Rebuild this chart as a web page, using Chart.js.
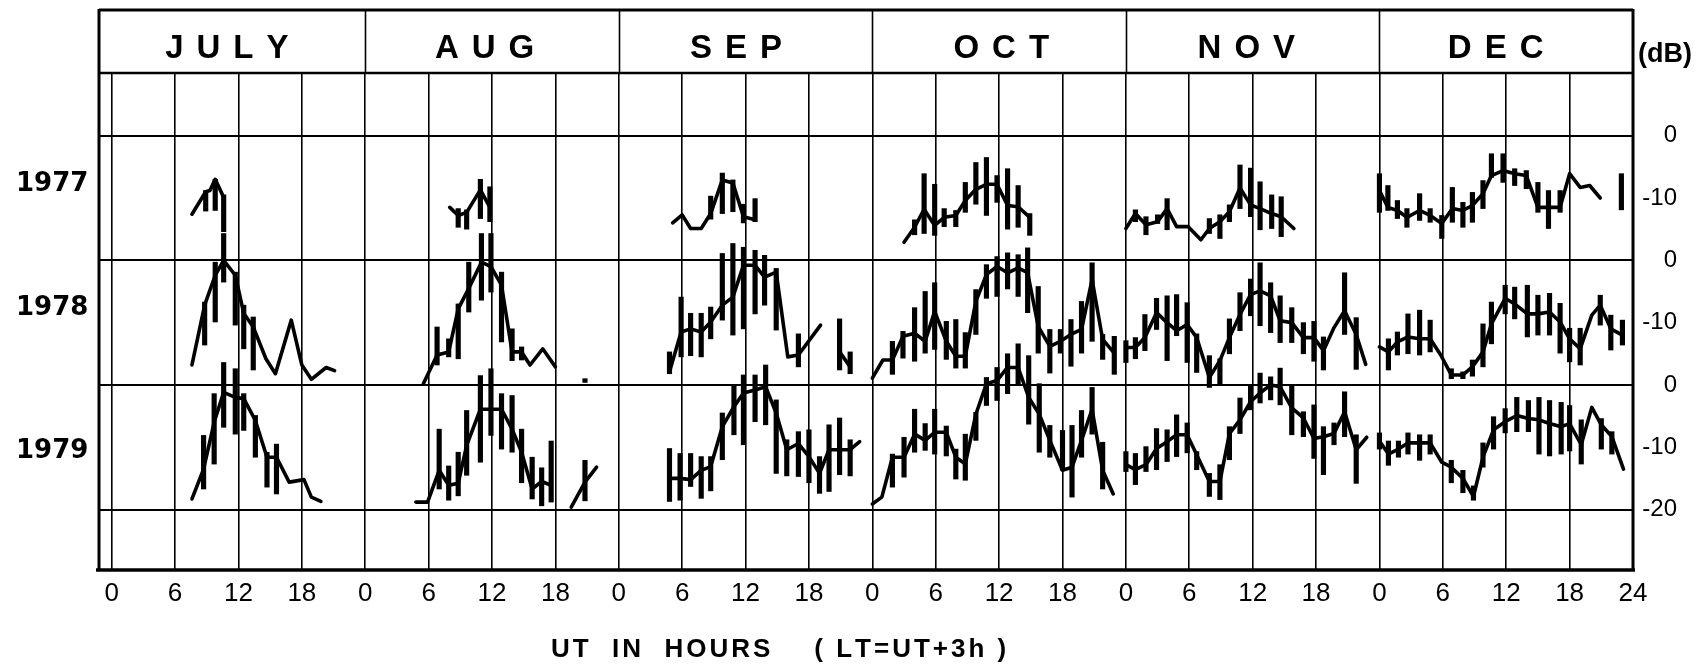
<!DOCTYPE html>
<html><head><meta charset="utf-8">
<script src="https://cdn.jsdelivr.net/npm/chart.js@4.4.1/dist/chart.umd.min.js"></script>
<style>html,body{margin:0;padding:0;background:#fff;}canvas{display:block;}</style>
</head><body>
<canvas id="c" width="1701" height="665"></canvas>
<script>
// ---------- categories / labels ----------
const MONTHS = ['JULY', 'AUG', 'SEP', 'OCT', 'NOV', 'DEC'];
const YEARS = ['1977', '1978', '1979'];
const HOUR_TICKS = [0, 6, 12, 18];
const DB_TICK_LABELS = ['0', '-10'];
const X_TITLE = 'UT  IN  HOURS    ( LT=UT+3h )';
const UNIT = '(dB)';

// ---------- series: [UT hour, mean dB] (null = gap) ----------
const jul77 = [[7.6,-12.6],[8.9,-9.0],[9.3,-8.8],[9.8,-7.0],[10.6,-9.9]];
const aug77 = [[8.0,-11.5],[8.8,-12.8],[9.6,-12.3],[10.9,-8.7],[11.8,-11.5]];
const sep77 = [[5.1,-14.0],[6.0,-12.7],[6.8,-14.9],[7.8,-14.9],[8.7,-12.5],[9.8,-7.1],[10.8,-7.6],[11.8,-13.0],[12.9,-13.5]];
const oct77 = [[3.0,-17.1],[4.0,-14.7],[4.9,-11.8],[5.9,-14.4],[6.8,-13.1],[7.9,-12.8],[8.8,-10.4],[9.8,-8.6],[10.8,-7.8],[11.8,-7.8],[12.8,-11.2],[13.8,-11.4],[14.9,-13.1]];
const nov77 = [[0,-14.9],[0.9,-12.5],[1.9,-14.3],[3.0,-13.8],[3.9,-11.7],[4.8,-14.6],[5.9,-14.6],[7.1,-16.7],[7.9,-14.9],[8.9,-13.8],[9.8,-12.2],[10.8,-8.4],[11.8,-11.1],[12.7,-11.7],[13.8,-12.5],[14.7,-13.0],[15.9,-14.9]];
const dec77 = [[0,-8.8],[0.8,-11.5],[1.7,-12.0],[2.6,-13.1],[3.8,-12.0],[4.8,-12.8],[5.9,-14.1],[6.9,-11.7],[7.9,-12.0],[8.8,-11.2],[9.8,-9.3],[10.6,-6.4],[11.7,-5.6],[12.8,-6.1],[13.9,-6.4],[15.0,-11.5],[16.0,-11.5],[17.1,-11.5],[18.0,-6.1],[19.0,-8.3],[19.9,-8.0],[20.9,-10.0]];

const jul78 = [[7.6,-16.8],[8.8,-7.2],[9.8,-2.4],[10.6,0],[11.7,-2.4],[12.5,-8.5],[13.4,-10.7],[14.6,-15.8],[15.5,-18.2],[17.0,-9.6],[18.0,-16.8],[18.9,-19.1],[20.3,-17.2],[21.1,-17.7]];
const aug78 = [[5.5,-19.8],[6.8,-15.2],[7.9,-14.7],[8.8,-7.8],[9.8,-4.5],[11.0,-0.3],[11.9,-1.0],[12.9,-4.0],[13.9,-14.7],[14.8,-14.7],[15.6,-16.8],[16.8,-14.2],[18.0,-17.1]];
const sep78 = [[4.8,-17.9],[5.9,-11.5],[6.8,-11.0],[7.8,-11.5],[8.7,-9.9],[9.8,-7.2],[10.8,-5.9],[11.8,-0.8],[12.9,-0.8],[13.8,-2.7],[14.9,-1.9],[16.0,-15.5],[17.0,-15.2],[19.1,-10.4],[20.0,null],[20.9,-14.7],[21.9,-17.1]];
const oct78 = [[0,-18.9],[1.0,-16.0],[1.9,-16.0],[2.9,-12.2],[4.0,-11.7],[5.0,-13.0],[5.9,-8.2],[7.0,-13.0],[7.9,-15.4],[8.8,-15.4],[9.8,-6.6],[10.8,-2.3],[11.8,-1.0],[12.8,-2.0],[13.8,-1.2],[14.7,-2.0],[15.7,-10.6],[16.8,-13.8],[17.8,-13.0],[18.8,-11.9],[19.8,-11.1],[20.8,-3.1],[21.8,-12.7],[22.9,-14.9]];
const nov78 = [[0,-14.0],[0.9,-14.0],[1.8,-12.4],[2.9,-8.4],[3.9,-10.0],[4.8,-11.3],[5.8,-10.3],[6.7,-12.4],[7.9,-18.8],[8.9,-16.1],[9.8,-12.4],[10.8,-8.7],[11.8,-5.5],[12.7,-4.9],[13.7,-5.7],[14.6,-9.7],[15.7,-10.0],[16.8,-12.4],[17.8,-12.4],[18.7,-14.5],[19.7,-10.8],[20.7,-8.1],[21.8,-11.9],[22.7,-16.7]];
const dec78 = [[0,-13.9],[0.85,-14.7],[1.7,-13.1],[2.7,-12.3],[3.8,-12.6],[4.8,-12.6],[5.8,-15.2],[6.8,-18.4],[7.9,-18.4],[8.8,-17.1],[9.8,-14.7],[10.6,-10.2],[11.9,-6.1],[12.8,-7.0],[14.0,-8.6],[15.0,-8.6],[16.1,-8.3],[17.1,-9.9],[18.0,-12.6],[19.0,-14.2],[20.1,-8.8],[20.9,-7.2],[21.9,-11.0],[23.0,-12.0]];

const jul79 = [[7.6,-18.3],[8.7,-13.5],[9.7,-6.0],[10.6,-1.2],[11.7,-2.0],[12.5,-2.2],[13.6,-5.7],[14.7,-11.6],[15.6,-11.6],[16.8,-15.6],[18.2,-15.2],[18.9,-18.0],[19.8,-18.7]];
const aug79 = [[4.8,-18.8],[5.9,-18.8],[7.0,-13.7],[7.9,-16.1],[8.8,-15.8],[9.6,-9.7],[10.9,-3.9],[11.9,-3.9],[12.9,-3.9],[13.9,-7.1],[14.8,-10.8],[15.8,-16.7],[16.7,-15.5],[17.6,-16.1],[18.5,null],[19.5,-19.6],[20.8,-15.6],[21.9,-13.2]];
const sep79 = [[4.8,-15.0],[5.8,-15.0],[6.8,-15.2],[7.8,-13.7],[8.7,-13.1],[9.8,-6.7],[10.9,-3.5],[11.8,-1.3],[12.9,-0.8],[13.9,-0.3],[14.9,-4.5],[15.9,-10.4],[17.0,-9.4],[18.0,-11.5],[19.0,-14.2],[19.9,-10.4],[20.9,-10.4],[21.9,-10.4],[22.8,-9.1]];
const oct79 = [[0,-19.1],[0.9,-18.0],[1.9,-11.6],[3.0,-11.6],[4.0,-7.9],[5.0,-8.9],[5.9,-7.6],[7.0,-7.6],[7.9,-11.6],[8.8,-12.7],[9.8,-4.7],[10.8,0.2],[11.8,0.7],[12.8,2.8],[13.8,2.8],[14.8,-2.0],[15.8,-4.7],[16.8,-8.9],[18.0,-13.7],[18.9,-13.2],[19.8,-8.9],[20.8,-3.9],[21.8,-13.7],[22.8,-17.5]];
const nov79 = [[0,-12.8],[0.9,-13.6],[1.9,-12.8],[2.9,-10.2],[3.9,-9.1],[4.8,-8.0],[5.8,-8.0],[6.7,-11.2],[7.9,-15.5],[8.9,-15.5],[9.8,-7.8],[10.8,-5.6],[11.8,-2.7],[12.7,-1.3],[13.7,0],[14.6,-0.3],[15.7,-3.7],[16.8,-5.3],[17.8,-8.6],[18.7,-8.3],[19.7,-7.8],[20.7,-4.3],[21.8,-10.4],[22.8,-8.4]];
const dec79 = [[0,-9.0],[0.85,-11.1],[1.8,-10.3],[2.7,-9.3],[3.8,-9.3],[4.8,-9.3],[5.9,-12.4],[6.8,-13.2],[7.9,-15.0],[8.9,-17.9],[9.8,-11.6],[10.8,-7.2],[11.9,-5.9],[13.0,-4.9],[14.1,-5.4],[15.1,-5.6],[16.1,-6.2],[17.2,-6.7],[18.0,-6.2],[19.1,-9.6],[20.1,-3.6],[21.0,-6.4],[22.0,-8.3],[23.1,-13.5]];

// ---------- error bars: [UT hour, upper dB, lower dB] ----------
const jul77Err = [[8.9,-8.8,-12.1],[9.8,-7.0,-12.0],[10.6,-9.5,-15.4]];
const aug77Err = [[8.8,-11.7,-14.7],[9.6,-11.9,-15.0],[10.9,-7.0,-13.3],[11.8,-8.2,-13.8]];
const sep77Err = [[8.7,-9.7,-13.4],[9.8,-6.0,-12.5],[10.8,-7.1,-12.2],[11.8,-11.0,-14.0],[12.9,-10.1,-13.8]];
const oct77Err = [[4.0,-13.5,-15.9],[4.9,-6.1,-15.7],[5.9,-7.8,-16.0],[6.8,-11.7,-14.6],[7.9,-12.0,-14.6],[8.8,-7.5,-12.3],[9.8,-4.3,-11.0],[10.8,-3.5,-12.8],[11.8,-6.4,-10.7],[12.8,-5.3,-15.0],[13.8,-8.0,-14.7],[14.9,-12.5,-16.0]];
const nov77Err = [[0.9,-11.9,-13.8],[1.9,-13.0,-15.9],[3.0,-12.7,-14.1],[3.9,-10.1,-15.1],[7.9,-13.3,-15.7],[8.9,-12.7,-16.5],[9.8,-11.1,-13.8],[10.8,-4.7,-11.7],[11.8,-5.2,-13.0],[12.7,-7.4,-15.1],[13.8,-9.5,-14.9],[14.7,-9.8,-16.2]];
const dec77Err = [[0,-6.1,-12.3],[0.8,-8.0,-12.0],[1.7,-10.4,-13.3],[2.6,-11.7,-14.7],[3.8,-9.3,-13.6],[4.8,-11.7,-13.9],[5.9,-12.8,-16.5],[6.9,-8.3,-13.9],[7.9,-10.7,-14.7],[8.8,-9.1,-13.9],[9.8,-7.2,-11.7],[10.6,-2.9,-6.7],[11.7,-2.9,-7.5],[12.8,-5.3,-8.0],[13.9,-5.6,-8.5],[15.0,-7.5,-12.3],[16.0,-8.8,-14.9],[17.1,-8.8,-12.3],[22.9,-6.1,-11.9]];

const jul78Err = [[8.8,-6.7,-13.6],[9.8,-0.3,-9.9],[10.6,4.3,-3.5],[11.7,-1.9,-10.4],[12.5,-7.2,-14.2],[13.4,-9.1,-17.6]];
const aug78Err = [[6.8,-10.7,-16.8],[7.9,-12.6,-15.5],[8.8,-7.0,-15.8],[9.8,-0.3,-8.3],[11.0,4.3,-6.4],[11.9,4.3,-5.1],[12.9,-1.9,-13.1],[13.9,-11.0,-16.1],[14.8,-13.9,-16.0],[20.8,-19.0,-19.6]];
const sep78Err = [[4.8,-14.7,-18.2],[5.9,-5.9,-15.5],[6.8,-8.5,-15.3],[7.8,-8.5,-15.5],[8.7,-7.5,-12.6],[9.8,1.1,-9.6],[10.8,2.7,-12.0],[11.8,2.1,-11.0],[12.9,1.6,-8.6],[13.8,0.8,-7.2],[14.9,-1.3,-11.2],[17.0,-11.8,-17.1],[20.9,-9.4,-17.6],[21.9,-14.7,-18.2]];
const oct78Err = [[1.9,-13.0,-18.3],[2.9,-11.4,-15.7],[4.0,-7.6,-16.2],[5.0,-5.0,-14.9],[5.9,-3.6,-14.3],[7.0,-9.8,-15.9],[7.9,-9.5,-17.3],[8.8,-11.6,-17.3],[9.8,-4.7,-11.9],[10.8,-0.7,-6.1],[11.8,0.6,-5.8],[12.8,1.2,-4.6],[13.8,0.9,-5.8],[14.7,2.0,-8.4],[15.7,-4.2,-14.9],[16.8,-11.1,-18.1],[17.8,-11.1,-14.9],[18.8,-9.5,-17.0],[19.8,-6.6,-14.9],[20.8,-0.4,-13.0],[21.8,-11.9,-15.9],[22.9,-12.2,-18.3]];
const nov78Err = [[0,-12.9,-16.4],[0.9,-12.4,-15.8],[1.8,-8.7,-14.5],[2.9,-6.1,-11.1],[3.9,-5.7,-16.1],[4.8,-5.5,-12.1],[5.8,-6.8,-16.4],[6.7,-11.8,-18.0],[7.9,-15.3,-20.4],[8.9,-15.8,-19.8],[9.8,-9.4,-15.0],[10.8,-5.2,-11.3],[11.8,-3.0,-8.9],[12.7,-0.4,-10.5],[13.7,-3.6,-11.6],[14.6,-5.7,-13.2],[15.7,-7.6,-13.2],[16.8,-10.0,-15.0],[17.8,-9.8,-16.2],[18.7,-12.3,-17.6],[20.7,-2.0,-11.9],[21.8,-9.2,-17.5]];
const dec78Err = [[0.85,-12.6,-17.6],[1.7,-11.5,-15.2],[2.7,-8.6,-15.0],[3.8,-8.0,-15.2],[4.8,-9.6,-14.7],[6.8,-17.4,-19.0],[7.9,-17.9,-19.0],[8.8,-16.0,-18.6],[9.8,-10.2,-17.1],[10.6,-6.7,-13.4],[11.9,-4.0,-8.6],[12.8,-4.3,-9.4],[14.0,-4.0,-12.3],[15.0,-5.6,-12.0],[16.1,-5.3,-12.0],[17.1,-6.9,-14.9],[18.0,-10.9,-16.3],[19.0,-10.9,-16.8],[20.9,-5.6,-10.4],[21.9,-8.8,-14.4],[23.0,-9.6,-13.6]];

const jul79Err = [[8.7,-8.1,-16.7],[9.7,-1.4,-12.7],[10.6,3.6,-6.8],[11.7,2.6,-7.9],[12.5,-1.4,-7.3],[13.6,-4.9,-11.6],[14.7,-10.8,-16.4],[15.6,-9.5,-17.5]];
const aug79Err = [[7.0,-7.1,-16.7],[7.9,-13.0,-18.5],[8.8,-10.8,-17.8],[9.6,-4.1,-14.5],[10.9,1.5,-12.4],[11.9,2.6,-8.1],[12.9,-1.4,-10.3],[13.9,-1.7,-10.8],[14.8,-7.1,-15.7],[15.8,-11.6,-18.3],[16.7,-13.3,-19.4],[17.6,-9.0,-18.8],[20.8,-12.1,-18.6]];
const sep79Err = [[4.8,-10.2,-18.7],[5.8,-11.0,-18.5],[6.8,-11.0,-16.3],[7.8,-11.5,-18.2],[8.7,-11.5,-17.0],[9.8,-4.5,-12.0],[10.9,0,-8.0],[11.8,1.6,-9.6],[12.9,1.6,-5.9],[13.9,3.2,-6.4],[14.9,-2.4,-14.2],[15.9,-8.8,-14.6],[17.0,-7.5,-14.7],[18.0,-7.2,-15.7],[19.0,-11.5,-17.4],[19.9,-6.4,-17.1],[20.9,-5.3,-14.4],[21.9,-8.8,-14.6]];
const oct79Err = [[1.9,-11.1,-16.4],[3.0,-8.4,-14.8],[4.0,-3.9,-10.8],[5.0,-6.2,-10.5],[5.9,-3.9,-11.1],[7.0,-6.6,-11.4],[7.9,-10.3,-15.1],[8.8,-7.9,-15.3],[9.8,-4.4,-8.9],[10.8,1.2,-3.3],[11.8,2.8,-2.5],[12.8,5.0,-1.4],[13.8,6.6,0.2],[14.8,4.7,-6.3],[15.8,0.2,-10.8],[16.8,-6.5,-11.6],[18.0,-7.3,-13.7],[18.9,-6.5,-18.0],[19.8,-4.1,-11.6],[20.8,-0.4,-7.9],[21.8,-9.2,-16.7]];
const nov79Err = [[0,-10.7,-13.9],[0.9,-11.0,-16.0],[1.9,-9.9,-13.9],[2.9,-7.0,-13.6],[3.9,-7.2,-12.3],[4.8,-4.8,-11.5],[5.8,-6.1,-10.9],[6.7,-10.7,-13.6],[7.9,-14.2,-17.9],[8.9,-12.8,-18.4],[9.8,-6.7,-12.0],[10.8,-2.1,-7.8],[11.8,0,-4.0],[12.7,1.9,-2.9],[13.7,1.3,-2.4],[14.6,2.7,-3.2],[15.7,0,-8.0],[16.8,-4.3,-8.3],[17.8,-3.2,-11.8],[18.7,-6.7,-14.4],[19.7,-6.1,-9.6],[20.7,-1.1,-8.3],[21.8,-8.0,-15.8]];
const dec79Err = [[0,-7.7,-10.3],[0.85,-9.0,-12.9],[1.8,-9.0,-11.6],[2.7,-7.7,-11.1],[3.8,-8.0,-12.1],[4.8,-8.0,-11.1],[6.8,-12.1,-15.7],[7.9,-13.7,-17.3],[8.9,-16.2,-18.5],[9.8,-9.3,-13.2],[10.8,-5.1,-10.3],[11.9,-3.8,-7.7],[13.0,-2.0,-7.5],[14.1,-2.5,-7.5],[15.1,-2.0,-11.1],[16.1,-2.5,-11.4],[17.2,-2.8,-11.1],[18.0,-3.3,-10.6],[19.1,-5.6,-12.7],[21.0,-5.4,-10.3],[22.0,-7.5,-11.1]];

const LINES = [
  [jul77, aug77, sep77, oct77, nov77, dec77],
  [jul78, aug78, sep78, oct78, nov78, dec78],
  [jul79, aug79, sep79, oct79, nov79, dec79]
];
const ERRS = [
  [jul77Err, aug77Err, sep77Err, oct77Err, nov77Err, dec77Err],
  [jul78Err, aug78Err, sep78Err, oct78Err, nov78Err, dec78Err],
  [jul79Err, aug79Err, sep79Err, oct79Err, nov79Err, dec79Err]
];

// ---------- layout / style constants ----------
const HOURS_PER_MONTH = 24;
const ROW_STEP = 20;                       // each year row is offset by 20 dB
const ROW_LABEL_AT = [-7.8, -27.7, -50.7]; // vertical placement of year labels
const HEADER_CENTER = [10.9, 11.3, 11.1, 12.2, 11.4, 11.0]; // hour within month
const TICK_FONT = "'Liberation Sans Narrow','Liberation Sans',Arial,sans-serif";

// ---------- build datasets ----------
const lineDatasets = LINES.map((row, yi) => {
  const data = [];
  row.forEach((pts, mi) => {
    pts.forEach(p => data.push({x: mi * HOURS_PER_MONTH + p[0], y: p[1] === null ? null : p[1] - ROW_STEP * yi}));
    data.push({x: mi * HOURS_PER_MONTH + 23.99, y: null});
  });
  return {type: 'line', label: YEARS[yi], data, borderColor: '#000', borderWidth: 3.6,
          pointRadius: 0, tension: 0, spanGaps: false, fill: false, yAxisID: 'y',
          borderJoinStyle: 'round', borderCapStyle: 'round'};
});
const barData = [];
ERRS.forEach((row, yi) => row.forEach((bars, mi) => bars.forEach(b => {
  barData.push({x: mi * HOURS_PER_MONTH + b[0], y: [b[2] - ROW_STEP * yi, b[1] - ROW_STEP * yi]});
})));
barData.sort((a, b) => a.x - b.x);
const barDataset = {type: 'bar', label: 'spread', data: barData, backgroundColor: '#000',
                    borderWidth: 0, barThickness: 4.5, grouped: true, yAxisID: 'y'};

const xTicks = [];
for (let v = 0; v <= MONTHS.length * HOURS_PER_MONTH; v += 6) xTicks.push(v);

function spacedText(ctx, text, x, y, spacing, align) {
  const chars = [...text];
  const w = chars.map(c => ctx.measureText(c).width);
  const total = w.reduce((a, b) => a + b, 0) + spacing * (chars.length - 1);
  let cx = align === 'left' ? x : x - total / 2;
  ctx.textAlign = 'left';
  chars.forEach((c, i) => { ctx.fillText(c, cx, y); cx += w[i] + spacing; });
}

const framePlugin = {
  id: 'frame',
  afterDraw(chart) {
    const {ctx, chartArea: a, scales: {x}} = chart;
    const top = 10;
    ctx.save();
    ctx.strokeStyle = '#000';
    ctx.lineCap = 'butt';
    // outer frame
    ctx.lineWidth = 3;
    ctx.beginPath();
    ctx.moveTo(a.left, top); ctx.lineTo(a.right, top);
    ctx.moveTo(a.left, top - 1); ctx.lineTo(a.left, a.bottom + 1);
    ctx.moveTo(a.right, top - 1); ctx.lineTo(a.right, a.bottom + 1);
    ctx.stroke();
    ctx.lineWidth = 3.5;
    ctx.beginPath();
    ctx.moveTo(a.left - 3, a.bottom); ctx.lineTo(a.right + 2, a.bottom);
    ctx.stroke();
    // header bottom
    ctx.lineWidth = 2.6;
    ctx.beginPath();
    ctx.moveTo(a.left, a.top); ctx.lineTo(a.right, a.top);
    ctx.stroke();
    // month dividers in header
    ctx.lineWidth = 1.6;
    ctx.beginPath();
    for (let m = 1; m < MONTHS.length; m++) {
      const px = Math.round(x.getPixelForValue(m * HOURS_PER_MONTH)) + 0.5;
      ctx.moveTo(px, top); ctx.lineTo(px, a.top);
    }
    ctx.stroke();
    // month names
    ctx.fillStyle = '#000';
    ctx.textBaseline = 'alphabetic';
    ctx.font = "bold 33px 'Liberation Sans', Arial, sans-serif";
    MONTHS.forEach((m, i) => {
      spacedText(ctx, m, x.getPixelForValue(i * HOURS_PER_MONTH + HEADER_CENTER[i]), 58, 13);
    });
    // unit
    ctx.font = "bold 27px 'Liberation Sans', Arial, sans-serif";
    ctx.textAlign = 'center';
    ctx.fillText(UNIT, 1665, 62);
    // x title
    ctx.font = "bold 26px 'Liberation Sans', Arial, sans-serif";
    spacedText(ctx, X_TITLE, 551, 657, 3, 'left');
    ctx.restore();
  }
};

new Chart(document.getElementById('c'), {
  type: 'line',
  data: {datasets: [...lineDatasets, barDataset]},
  options: {
    responsive: false,
    animation: false,
    devicePixelRatio: 1,
    layout: {padding: {left: 16, top: 73, right: 24, bottom: 0}},
    plugins: {legend: {display: false}, tooltip: {enabled: false}, title: {display: false}},
    scales: {
      x: {
        type: 'linear', position: 'bottom', min: -1.2, max: 144, offset: false,
        afterBuildTicks: s => { s.ticks = xTicks.map(v => ({value: v})); },
        afterFit: s => { s.height = 95; },
        grid: {color: '#000', lineWidth: 1.6, drawTicks: false, offset: false},
        border: {display: false},
        ticks: {autoSkip: false, maxRotation: 0, padding: 8, color: '#000',
                font: {family: TICK_FONT, size: 26},
                callback: v => v === 144 ? '24' : String(HOUR_TICKS[(v % 24) / 6])}
      },
      y: {
        type: 'linear', position: 'right', min: -69.7, max: 10.06,
        afterBuildTicks: s => { const t = []; for (let v = 0; v >= -60; v -= 10) t.push({value: v}); s.ticks = t; },
        afterFit: s => { s.width = 44; },
        grid: {color: c => (c.tick && c.tick.value % 20 === 0) ? '#000' : 'rgba(0,0,0,0)', lineWidth: 2, drawTicks: false},
        border: {display: false},
        ticks: {crossAlign: 'far', padding: 8, color: '#000', autoSkip: false,
                font: {family: TICK_FONT, size: 24},
                callback: v => v === -60 ? '-20' : DB_TICK_LABELS[(v % 20 === 0) ? 0 : 1]}
      },
      yl: {
        type: 'linear', position: 'left', min: -69.7, max: 10.06,
        afterBuildTicks: s => { s.ticks = ROW_LABEL_AT.map(v => ({value: v})); },
        afterFit: s => { s.width = 83; },
        grid: {display: false}, border: {display: false},
        ticks: {crossAlign: 'far', autoSkip: false, color: '#000',
                font: {family: "'DejaVu Sans', sans-serif", size: 26, weight: 'bold'},
                callback: (v, i) => YEARS[i]}
      }
    }
  },
  plugins: [framePlugin]
});
</script>
</body></html>
